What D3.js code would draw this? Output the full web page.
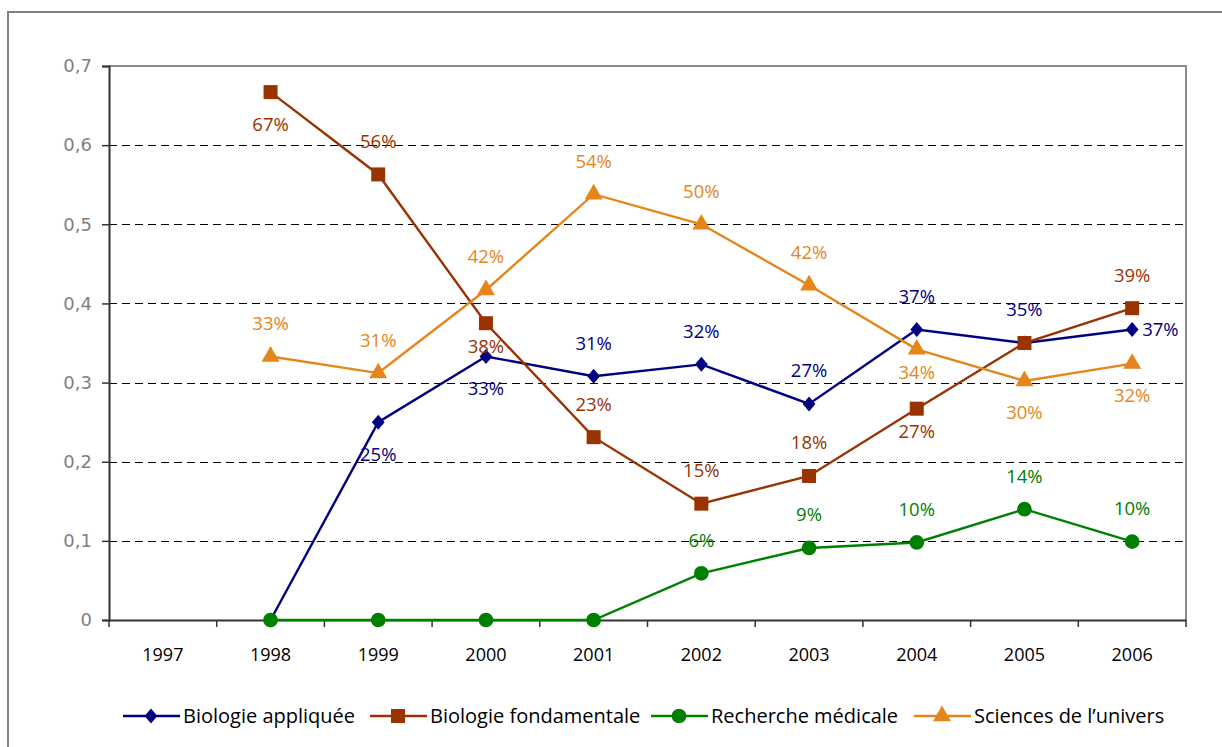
<!DOCTYPE html>
<html>
<head>
<meta charset="utf-8">
<script src="https://cdn.jsdelivr.net/npm/d3@7"></script>
<style>
  body { margin: 0; background: #fff; }
  svg { display: block; }
</style>
</head>
<body>
<svg id="chart" width="1222" height="747"></svg>
<script>
// years on the x axis
const years = ["1997", "1998", "1999", "2000", "2001", "2002", "2003", "2004", "2005", "2006"];
const yTicks = [0, 0.1, 0.2, 0.3, 0.4, 0.5, 0.6, 0.7];

// series values (null = no point)
const bioAppliquee = [null, 0, 0.25, 0.333, 0.308, 0.323, 0.273, 0.367, 0.35, 0.367];
const bioFondamentale = [null, 0.667, 0.563, 0.375, 0.231, 0.147, 0.182, 0.267, 0.35, 0.394];
const rechMedicale = [null, 0, 0, 0, 0, 0.059, 0.091, 0.098, 0.14, 0.099];
const sciencesUnivers = [null, 0.333, 0.312, 0.417, 0.538, 0.5, 0.423, 0.342, 0.302, 0.324];

// where each value label sits: a = above, b = below, n = just below, r = right, - = none
const posAppliquee = ["-", "-", "b", "b", "a", "a", "a", "a", "a", "r"];
const posFondamentale = ["-", "b", "a", "n", "a", "a", "a", "n", "-", "a"];
const posMedicale = ["-", "-", "-", "-", "-", "a", "a", "a", "a", "a"];
const posUnivers = ["-", "a", "a", "a", "a", "a", "a", "n", "b", "b"];

const labelDy = { a: -33, b: 32, n: 23, r: 0 };

// a squat diamond like the spreadsheet marker
const diamond = {
  draw(ctx, size) {
    const h = Math.sqrt(size) * 0.75, w = h * 0.85;
    ctx.moveTo(0, -h); ctx.lineTo(w, 0); ctx.lineTo(0, h); ctx.lineTo(-w, 0); ctx.closePath();
  }
};

const series = [
  { name: "Biologie appliquée", values: bioAppliquee, pos: posAppliquee, color: "#000080", symbol: diamond, size: 100 },
  { name: "Biologie fondamentale", values: bioFondamentale, pos: posFondamentale, color: "#993300", symbol: d3.symbolSquare, size: 196 },
  { name: "Recherche médicale", values: rechMedicale, pos: posMedicale, color: "#008000", symbol: d3.symbolCircle, size: 170 },
  { name: "Sciences de l\u2019univers", values: sciencesUnivers, pos: posUnivers, color: "#e5861b", symbol: d3.symbolTriangle, size: 140 }
];

const svg = d3.select("#chart");
const labelFont = "'Open Sans', sans-serif";

// outer frame of the chart object (runs off the right and bottom)
svg.append("rect")
  .attr("x", 8).attr("y", 12)
  .attr("width", 1240).attr("height", 760)
  .attr("fill", "#fff")
  .attr("stroke", "#808080")
  .attr("stroke-width", 2);

const plot = { left: 109, right: 1186, top: 66, bottom: 620 };

const x = d3.scaleBand().domain(years).range([plot.left, plot.right]);
const y = d3.scaleLinear().domain([0, 0.7]).range([plot.bottom, plot.top]);
const cx = (i) => x(years[i]) + x.bandwidth() / 2;

// dashed gridlines
svg.append("g")
  .selectAll("line")
  .data(yTicks.filter((t) => t > 0 && t < 0.7))
  .join("line")
  .attr("x1", plot.left).attr("x2", plot.right)
  .attr("y1", (d) => Math.round(y(d)) + 0.5).attr("y2", (d) => Math.round(y(d)) + 0.5)
  .attr("stroke", "#000")
  .attr("stroke-width", 1)
  .attr("stroke-dasharray", "8,5");

// plot border top / right
svg.append("path")
  .attr("d", `M${plot.left},${plot.top}H${plot.right}V${plot.bottom}`)
  .attr("fill", "none")
  .attr("stroke", "#8c8c8c")
  .attr("stroke-width", 2);

// y axis
const yAxis = svg.append("g")
  .attr("transform", `translate(${plot.left},0)`)
  .call(d3.axisLeft(y).tickValues(yTicks).tickSize(7).tickPadding(10)
    .tickFormat((d) => (d === 0 ? "0" : d3.format(".1f")(d).replace(".", ","))));
yAxis.select(".domain").attr("stroke", "#333").attr("stroke-width", 2);
yAxis.selectAll(".tick line").attr("stroke", "#333").attr("stroke-width", 1.5);
yAxis.selectAll("text")
  .attr("fill", "#7f7f7f")
  .attr("font-family", "'DejaVu Sans', sans-serif")
  .attr("font-size", 18);

// x axis: ticks at category boundaries
const xAxis = svg.append("g")
  .attr("transform", `translate(0,${plot.bottom})`)
  .call(d3.axisBottom(x).tickSize(0).tickPadding(28));
xAxis.select(".domain").attr("stroke", "#333").attr("stroke-width", 2);
xAxis.selectAll("text")
  .attr("fill", "#000")
  .attr("font-family", labelFont)
  .attr("font-size", 18);
xAxis.selectAll(".bound")
  .data(d3.range(years.length + 1))
  .join("line")
  .attr("class", "bound")
  .attr("x1", (i) => plot.left + i * x.bandwidth())
  .attr("x2", (i) => plot.left + i * x.bandwidth())
  .attr("y1", 0).attr("y2", 7)
  .attr("stroke", "#333")
  .attr("stroke-width", 1.5);

// lines and markers
const line = d3.line()
  .defined((d) => d != null)
  .x((d, i) => cx(i))
  .y((d) => y(d));

series.forEach((s) => {
  const g = svg.append("g");
  g.append("path")
    .attr("d", line(s.values))
    .attr("fill", "none")
    .attr("stroke", s.color)
    .attr("stroke-width", 2.4);
  g.selectAll("path.marker")
    .data(s.values.map((v, i) => ({ v, i })).filter((d) => d.v != null))
    .join("path")
    .attr("class", "marker")
    .attr("transform", (d) => `translate(${cx(d.i)},${y(d.v)})`)
    .attr("d", d3.symbol().type(s.symbol).size(s.size))
    .attr("fill", s.color);
});

// value labels
series.forEach((s) => {
  svg.append("g")
    .selectAll("text")
    .data(s.values.map((v, i) => ({ v, i, p: s.pos[i] })).filter((d) => d.v != null && d.p !== "-"))
    .join("text")
    .attr("x", (d) => (d.p === "r" ? cx(d.i) + 10 : cx(d.i)))
    .attr("y", (d) => y(d.v) + labelDy[d.p])
    .attr("dy", "0.35em")
    .attr("text-anchor", (d) => (d.p === "r" ? "start" : "middle"))
    .attr("font-family", labelFont)
    .attr("font-size", 18.5)
    .attr("fill", s.color)
    .text((d) => Math.round(d.v * 100) + "%");
});

// legend
const legendX = [123, 370, 651, 914];
const legend = svg.append("g").attr("transform", "translate(0,716)");
series.forEach((s, i) => {
  const g = legend.append("g").attr("transform", `translate(${legendX[i]},0)`);
  g.append("line")
    .attr("x1", 0).attr("x2", 57)
    .attr("stroke", s.color)
    .attr("stroke-width", 2.4);
  g.append("path")
    .attr("transform", "translate(28,0)")
    .attr("d", d3.symbol().type(s.symbol).size(s.size))
    .attr("fill", s.color);
  g.append("text")
    .attr("x", 60)
    .attr("dy", "0.36em")
    .attr("font-family", labelFont)
    .attr("font-size", 20)
    .attr("fill", "#000")
    .text(s.name);
});
</script>
</body>
</html>
